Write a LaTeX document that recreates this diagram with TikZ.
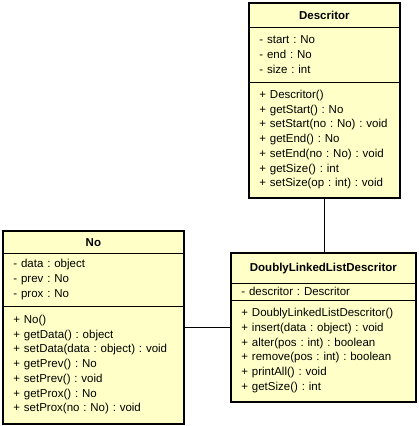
\documentclass[tikz,border=0pt]{standalone}
\usepackage{fontspec}
\setmainfont{Liberation Sans}
\frenchspacing
\usetikzlibrary{fit}
\definecolor{umlfill}{RGB}{255,255,200}

\begin{document}
\begin{tikzpicture}[x=1pt,y=-1pt,
    sect/.style={draw,fill=umlfill,line width=0.8pt,inner xsep=10pt,inner ysep=0pt,anchor=north west,align=left,font=\fontsize{11.5}{14.7}\selectfont},
    head/.style={sect,align=center,font=\fontsize{11.5}{14.7}\selectfont\bfseries},
    classbox/.style={draw,line width=2pt,inner sep=0pt}]
              \useasboundingbox (0,0) rectangle (419,426);

              \node[head,text width=130pt,minimum height=24pt]   (DescT) at (249,3)    {Descritor};
              \node[sect,text width=130pt,minimum height=54.5pt] (DescA) at (249,27)   {- start : No\\- end : No\\- size : int};
              \node[sect,text width=130pt,minimum height=115.5pt] (DescM) at (249,81.5) {+ Descritor()\\+ getStart() : No\\+ setStart(no : No) : void\\+ getEnd() : No\\+ setEnd(no : No) : void\\+ getSize() : int\\+ setSize(op : int) : void};
              \node[classbox,fit=(DescT)(DescM)] (Desc) {};

              \node[head,text width=160pt,minimum height=22pt]   (NoT) at (3,231)    {No};
              \node[sect,text width=160pt,minimum height=52.5pt] (NoA) at (3,253)    {- data : object\\- prev : No\\- prox : No};
              \node[sect,text width=160pt,minimum height=117.5pt] (NoM) at (3,305.5) {+ No()\\+ getData() : object\\+ setData(data : object) : void\\+ getPrev() : No\\+ setPrev() : void\\+ getProx() : No\\+ setProx(no : No) : void};
              \node[classbox,fit=(NoT)(NoM)] (No) {};

              \node[head,text width=164pt,minimum height=29.5pt] (DLLDT) at (231,253) {DoublyLinkedListDescritor};
              \node[sect,text width=164pt,minimum height=17pt]   (DLLDA) at (231,282.5) {- descritor : Descritor};
              \node[sect,text width=164pt,minimum height=101.5pt] (DLLDM) at (231,299.5) {+ DoublyLinkedListDescritor()\\+ insert(data : object) : void\\+ alter(pos : int) : boolean\\+ remove(pos : int) : boolean\\+ printAll() : void\\+ getSize() : int};
              \node[classbox,fit=(DLLDT)(DLLDM)] (DLLD) {};

              \path[draw,line width=0.8pt] (Desc) -- (Desc |- DLLD.north);
              \path[draw,line width=0.8pt] (No) -- (DLLD);
          \end{tikzpicture}
\end{document}
